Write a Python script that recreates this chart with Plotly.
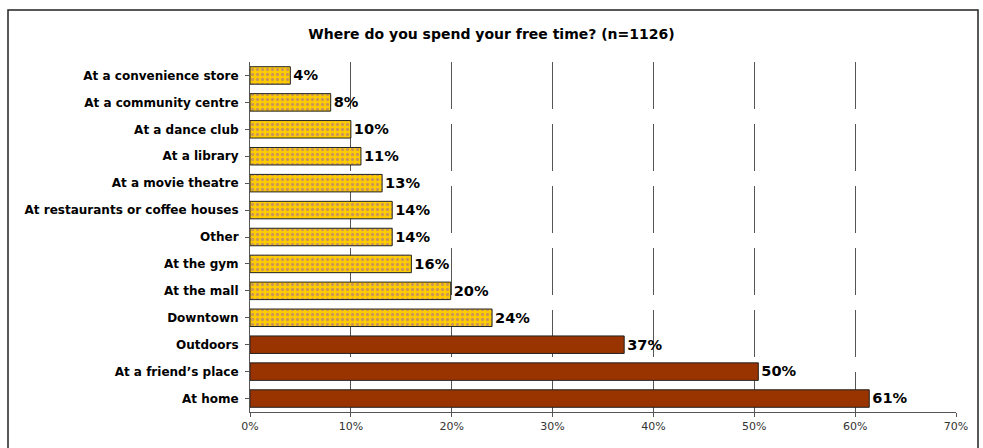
import plotly.graph_objects as go

categories = ["At a convenience store", "At a community centre", "At a dance club", "At a library",
              "At a movie theatre", "At restaurants or coffee houses", "Other", "At the gym",
              "At the mall", "Downtown", "Outdoors", "At a friend\u2019s place", "At home"]
values = [4.0, 8.0, 10.0, 11.0, 13.1, 14.1, 14.1, 16.0, 19.9, 24.0, 37.1, 50.4, 61.4]
labels = ["4%", "8%", "10%", "11%", "13%", "14%", "14%", "16%", "20%", "24%", "37%", "50%", "61%"]
highlight = [False] * 10 + [True] * 3
x_ticks = [0, 10, 20, 30, 40, 50, 60, 70]
x_ticklabels = ["0%", "10%", "20%", "30%", "40%", "50%", "60%", "70%"]

FONT = "DejaVu Sans"

fig = go.Figure()
light_c = [c for c, h in zip(categories, highlight) if not h]
light_v = [v for v, h in zip(values, highlight) if not h]
light_t = [t for t, h in zip(labels, highlight) if not h]
dark_c = [c for c, h in zip(categories, highlight) if h]
dark_v = [v for v, h in zip(values, highlight) if h]
dark_t = [t for t, h in zip(labels, highlight) if h]

fig.add_trace(go.Bar(
    y=light_c, x=light_v, orientation="h", text=light_t, textposition="outside",
    textfont=dict(family=FONT, size=15, color="black", weight="bold"),
    marker=dict(color="#FFCC00", line=dict(color="#222", width=1),
                pattern=dict(shape=".", fgcolor="#9966AA", bgcolor="#FFCC00", size=5, solidity=0.35)),
    width=0.65, cliponaxis=False, showlegend=False))
fig.add_trace(go.Bar(
    y=dark_c, x=dark_v, orientation="h", text=dark_t, textposition="outside",
    textfont=dict(family=FONT, size=15, color="black", weight="bold"),
    marker=dict(color="#993300", line=dict(color="#222", width=1)),
    width=0.65, cliponaxis=False, showlegend=False))

fig.update_layout(
    width=983, height=448,
    margin=dict(l=250, r=27, t=62, b=36),
    paper_bgcolor="white", plot_bgcolor="white",
    barmode="overlay",
    title=dict(text="<b>Where do you spend your free time? (n=1126)</b>", x=0.5, xanchor="center",
               y=1 - 34 / 448, yanchor="middle",
               font=dict(family=FONT, size=14, color="black")),
    xaxis=dict(range=[0, 70], tickvals=x_ticks, ticktext=x_ticklabels,
               tickfont=dict(family=FONT, size=11, color="#333"),
               showgrid=True, gridcolor="#555", griddash="47px,15px", gridwidth=1,
               showline=True, linecolor="#555", ticks="outside", ticklen=4, tickcolor="#555",
               zeroline=False, fixedrange=True),
    yaxis=dict(categoryorder="array", categoryarray=categories[::-1],
               tickfont=dict(family=FONT, size=12, color="black", weight="bold"),
               showline=True, linecolor="#555", ticks="outside", ticklen=4, tickcolor="#555",
               showgrid=False, ticklabelstandoff=4),
    shapes=[dict(type="rect", xref="paper", yref="paper",
                 x0=-242 / 706, x1=(978 - 250) / 706, y0=-0.5, y1=(412 - 10) / 350,
                 line=dict(color="#222", width=1.5), fillcolor="rgba(0,0,0,0)", layer="below")],
)

fig.write_html("out.html")
